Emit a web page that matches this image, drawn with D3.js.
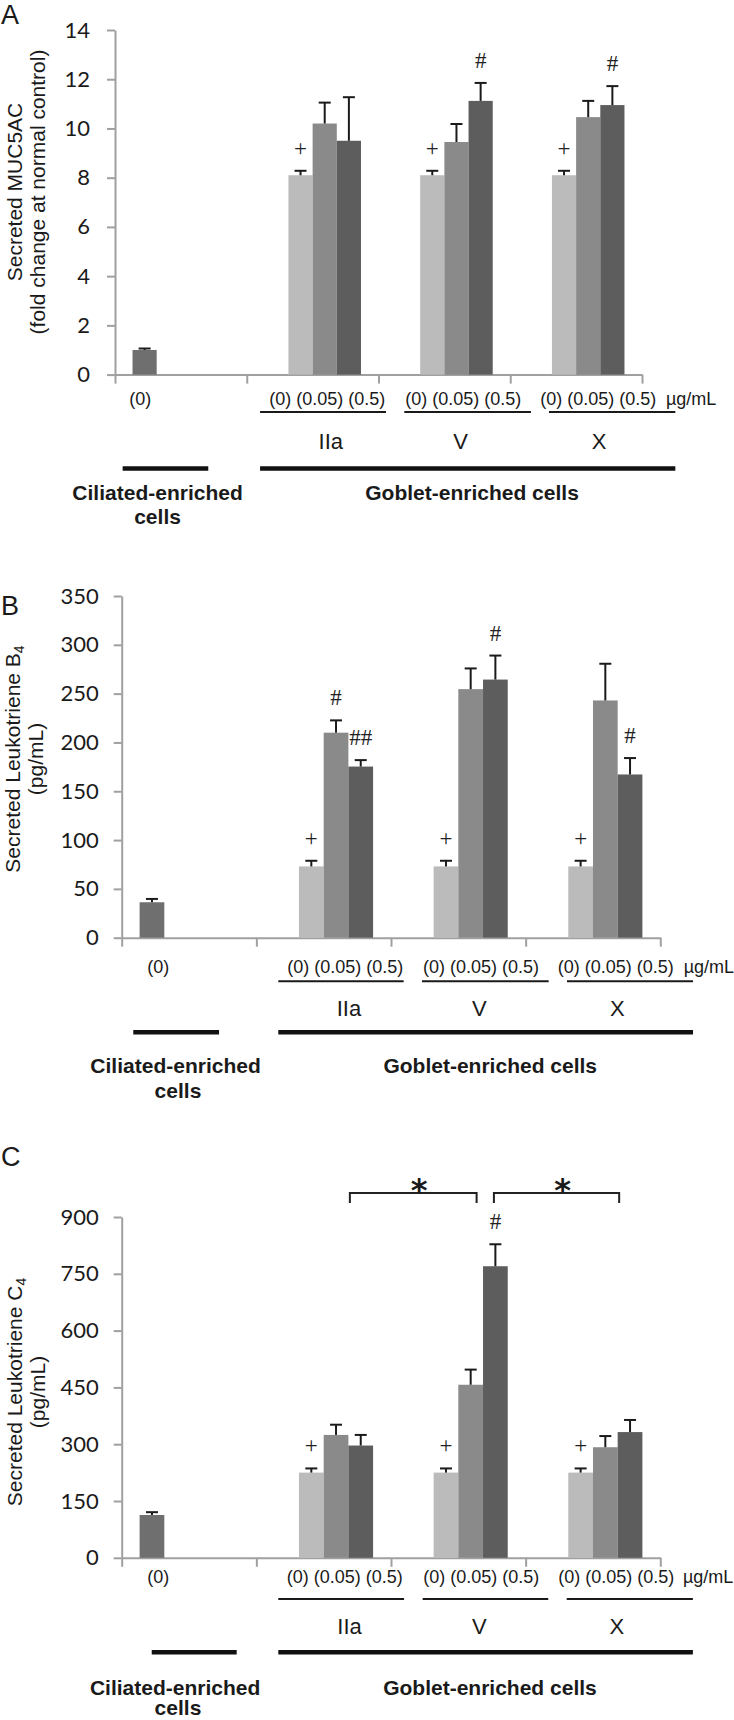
<!DOCTYPE html>
<html>
<head>
<meta charset="utf-8">
<script src="https://cdn.jsdelivr.net/npm/d3@7/dist/d3.min.js"></script>
<style>
  html, body { margin: 0; padding: 0; background: #fff; }
  svg { display: block; }
</style>
</head>
<body>
<div id="chart"></div>
<script>
// ---------------- DATA ----------------
// order: ciliated (0), IIa (0, 0.05, 0.5), V (0, 0.05, 0.5), X (0, 0.05, 0.5)
const groups = ["Ciliated-enriched", "IIa", "V", "X"];
const slots = ["ciliated", "0", "0.05", "0.5"];
const doseLabel = "(0) (0.05) (0.5)";

const muc5acMean = [1.0, 8.1, 10.2, 9.5, 8.1, 9.45, 11.12, 8.1, 10.46, 10.95];
const muc5acErr  = [0.06, 0.18, 0.85, 1.77, 0.18, 0.73, 0.73, 0.18, 0.66, 0.77];
const muc5acSig  = ["", "+", "", "", "+", "", "#", "+", "", "#"];
const muc5acTicks = [0, 2, 4, 6, 8, 10, 12, 14];

const ltb4Mean = [36.3, 73, 210, 175.3, 73, 254.6, 264.4, 73, 243, 167.2];
const ltb4Err  = [3.4, 5.8, 12.6, 6.6, 5.8, 21.2, 24.6, 5.8, 37.6, 16.8];
const ltb4Sig  = ["", "+", "#", "##", "+", "", "#", "+", "", "#"];
const ltb4Ticks = [0, 50, 100, 150, 200, 250, 300, 350];

const ltc4Mean = [113, 225, 324.5, 296.5, 225, 457, 770, 225, 292, 332];
const ltc4Err  = [7.5, 11, 27, 28, 11, 40, 58, 11, 29.5, 32];
const ltc4Sig  = ["", "+", "", "", "+", "", "#", "+", "", ""];
const ltc4Ticks = [0, 150, 300, 450, 600, 750, 900];

// ---------------- STYLE / LAYOUT ----------------
const slotColor = { "ciliated": "#6f6f6f", "0": "#bbbbbb", "0.05": "#8a8a8a", "0.5": "#5d5d5d" };
const AXIS = "#a0a0a0";
const INK = "#1a1a1a";
const TICKFONT = "Lato, 'Open Sans', sans-serif";
const SANS = "'Liberation Sans', Arial, sans-serif";
const SERIF = "'Liberation Serif', 'Times New Roman', serif";

const panels = [
  { letter: "A", letterY: 24, mean: muc5acMean, err: muc5acErr, sig: muc5acSig, ticks: muc5acTicks,
    x0: 115, x1: 642, yTop: 30, yBot: 374.6, tickPad: 17,
    title: ["Secreted MUC5AC", "(fold change at normal control)"], sub: null,
    titleX: [22, 45], titleY: 192,
    doseY: 405, cilDose: 0.192, textStart: [1.171, 2.203, 3.228],
    ulY: 412, ul: [[1.101, 2.057], [2.196, 3.157], [3.294, 4.253]], unit: 4.182,
    nameY: 448.7, names: [1.638, 2.624, 3.674],
    thickY: 468.5, thickCil: [0.058, 0.708], thickGob: [1.101, 4.253],
    cilLabel: 0.323, cellsLabel: 0.323, gobLabel: 2.710, lblY1: 500.3, lblY2: 524,
    brackets: [] },
  { letter: "B", letterY: 615, mean: ltb4Mean, err: ltb4Err, sig: ltb4Sig, ticks: ltb4Ticks,
    x0: 121.7, x1: 660.3, yTop: 596, yBot: 937.7, tickPad: 15,
    title: ["Secreted Leukotriene B", "(pg/mL)"], sub: "4",
    titleX: [20, 43], titleY: 759,
    doseY: 973, cilDose: 0.272, textStart: [1.230, 2.238, 3.238],
    ulY: 981.3, ul: [[1.163, 2.094], [2.230, 3.171], [3.307, 4.243]], unit: 4.174,
    nameY: 1015.7, names: [1.688, 2.657, 3.681],
    thickY: 1032.3, thickCil: [0.086, 0.723], thickGob: [1.163, 4.243],
    cilLabel: 0.400, cellsLabel: 0.418, gobLabel: 2.737, lblY1: 1073, lblY2: 1098,
    brackets: [] },
  { letter: "C", letterY: 1166, mean: ltc4Mean, err: ltc4Err, sig: ltc4Sig, ticks: ltc4Ticks,
    x0: 121.7, x1: 660.3, yTop: 1217, yBot: 1557.8, tickPad: 15,
    title: ["Secreted Leukotriene C", "(pg/mL)"], sub: "4",
    titleX: [21.5, 44.5], titleY: 1392,
    doseY: 1583, cilDose: 0.272, textStart: [1.225, 2.240, 3.242],
    ulY: 1599, ul: [[1.163, 2.097], [2.235, 3.168], [3.305, 4.242]], unit: 4.168,
    nameY: 1633.7, names: [1.692, 2.656, 3.678],
    thickY: 1652.3, thickCil: [0.223, 0.854], thickGob: [1.163, 4.242],
    cilLabel: 0.397, cellsLabel: 0.418, gobLabel: 2.735, lblY1: 1694.7, lblY2: 1715,
    // bracket ends: [category index, slot position within category]
    brackets: [ { from: [1, 3.06], to: [2, 2.74], y: 1193, drop: 10, label: "*" },
                { from: [2, 3.44], to: [3, 3.06], y: 1193, drop: 10, label: "*" } ] }
];

const W = 734, H = 1720;
const svg = d3.select("#chart").append("svg")
  .attr("width", W).attr("height", H)
  .attr("viewBox", `0 0 ${W} ${H}`);
svg.append("rect").attr("width", W).attr("height", H).attr("fill", "#fff");

function idxToCat(i) { return i === 0 ? 0 : 1 + Math.floor((i - 1) / 3); }
function idxToSlot(i) { return i === 0 ? 0 : 1 + (i - 1) % 3; }

panels.forEach(p => {
  const g = svg.append("g");
  const xCat = d3.scaleBand().domain(groups).range([p.x0, p.x1]).paddingInner(0).paddingOuter(0);
  const xSlot = d3.scaleBand().domain(slots).range([0, xCat.bandwidth()]).paddingInner(0).paddingOuter(0.725);
  const xb = d3.scaleLinear().domain([0, groups.length]).range([p.x0, p.x1]);
  const y = d3.scaleLinear().domain([0, d3.max(p.ticks)]).range([p.yBot, p.yTop]);
  const step = xSlot.step();
  const slotX = (cat, pos) => xCat(groups[cat]) + xSlot(slots[0]) + pos * step;

  // panel letter
  g.append("text").attr("x", 1).attr("y", p.letterY)
    .attr("font-family", SANS).attr("font-size", 27).attr("fill", INK).text(p.letter);

  // y axis
  const yAxis = g.append("g").attr("transform", `translate(${p.x0},0)`)
    .call(d3.axisLeft(y).tickValues(p.ticks).tickSize(8).tickSizeOuter(0).tickPadding(p.tickPad).tickFormat(d3.format("d")));
  yAxis.select(".domain").attr("stroke", AXIS).attr("stroke-width", 2);
  yAxis.selectAll(".tick line").attr("stroke", AXIS).attr("stroke-width", 2);
  yAxis.selectAll(".tick text").attr("font-family", TICKFONT).attr("font-size", 22).attr("fill", INK);

  // x axis (category boundaries)
  const xAxis = g.append("g").attr("transform", `translate(0,${p.yBot})`)
    .call(d3.axisBottom(xb).tickValues(d3.range(groups.length + 1)).tickSize(9).tickSizeOuter(0).tickFormat(""));
  xAxis.select(".domain").attr("stroke", AXIS).attr("stroke-width", 2);
  xAxis.selectAll(".tick line").attr("stroke", AXIS).attr("stroke-width", 2);

  // bars
  const rows = p.mean.map((v, i) => ({ v, e: p.err[i], s: p.sig[i], cat: groups[idxToCat(i)], slot: slots[idxToSlot(i)] }));
  g.selectAll("rect.bar").data(rows).join("rect").attr("class", "bar")
    .attr("x", d => xCat(d.cat) + xSlot(d.slot))
    .attr("width", xSlot.bandwidth())
    .attr("y", d => y(d.v))
    .attr("height", d => y(0) - y(d.v))
    .attr("fill", d => slotColor[d.slot]);

  // error bars (upper only)
  const cap = 12;
  rows.forEach(d => {
    const cx = xCat(d.cat) + xSlot(d.slot) + xSlot.bandwidth() / 2;
    g.append("line").attr("x1", cx).attr("x2", cx).attr("y1", y(d.v)).attr("y2", y(d.v + d.e))
      .attr("stroke", INK).attr("stroke-width", 2);
    g.append("line").attr("x1", cx - cap / 2).attr("x2", cx + cap / 2).attr("y1", y(d.v + d.e)).attr("y2", y(d.v + d.e))
      .attr("stroke", INK).attr("stroke-width", 2);
    if (d.s) {
      g.append("text").attr("x", cx).attr("y", y(d.v + d.e) - 15)
        .attr("text-anchor", "middle").attr("font-family", SERIF).attr("font-size", 23)
        .attr("fill", "#222").text(d.s);
    }
  });

  // y title
  const t = g.append("g");
  const t1 = t.append("text").attr("transform", `translate(${p.titleX[0]},${p.titleY}) rotate(-90)`)
    .attr("text-anchor", "middle").attr("font-family", SANS).attr("font-size", 21).attr("fill", INK);
  t1.append("tspan").text(p.title[0]);
  if (p.sub) t1.append("tspan").attr("font-size", 14).attr("dy", 4).text(p.sub);
  t.append("text").attr("transform", `translate(${p.titleX[1]},${p.titleY}) rotate(-90)`)
    .attr("text-anchor", "middle").attr("font-family", SANS).attr("font-size", 21).attr("fill", INK)
    .text(p.title[1]);

  // dose labels
  g.append("text").attr("x", xb(p.cilDose)).attr("y", p.doseY).attr("text-anchor", "middle")
    .attr("font-family", SANS).attr("font-size", 18).attr("fill", INK).text("(0)");
  p.textStart.forEach(s => {
    g.append("text").attr("x", xb(s)).attr("y", p.doseY)
      .attr("font-family", SANS).attr("font-size", 18).attr("fill", INK).text(doseLabel);
  });
  g.append("text").attr("x", xb(p.unit)).attr("y", p.doseY)
    .attr("font-family", SANS).attr("font-size", 18).attr("fill", INK).text("µg/mL");
  p.ul.forEach(u => {
    g.append("line").attr("x1", xb(u[0])).attr("x2", xb(u[1])).attr("y1", p.ulY).attr("y2", p.ulY)
      .attr("stroke", INK).attr("stroke-width", 2);
  });
  // compound names
  groups.slice(1).forEach((name, k) => {
    g.append("text").attr("x", xb(p.names[k])).attr("y", p.nameY).attr("text-anchor", "middle")
      .attr("font-family", SANS).attr("font-size", 22).attr("fill", INK).text(name);
  });
  // thick lines
  [p.thickCil, p.thickGob].forEach(r => {
    g.append("line").attr("x1", xb(r[0])).attr("x2", xb(r[1])).attr("y1", p.thickY).attr("y2", p.thickY)
      .attr("stroke", "#111").attr("stroke-width", 4.5);
  });
  // cell type labels
  g.append("text").attr("x", xb(p.cilLabel)).attr("y", p.lblY1).attr("text-anchor", "middle")
    .attr("font-family", SANS).attr("font-weight", "bold").attr("font-size", 21).attr("fill", INK).text("Ciliated-enriched");
  g.append("text").attr("x", xb(p.cellsLabel)).attr("y", p.lblY2).attr("text-anchor", "middle")
    .attr("font-family", SANS).attr("font-weight", "bold").attr("font-size", 21).attr("fill", INK).text("cells");
  g.append("text").attr("x", xb(p.gobLabel)).attr("y", p.lblY1).attr("text-anchor", "middle")
    .attr("font-family", SANS).attr("font-weight", "bold").attr("font-size", 21).attr("fill", INK).text("Goblet-enriched cells");

  // significance brackets
  p.brackets.forEach(b => {
    const xa = slotX(b.from[0], b.from[1]);
    const xz = slotX(b.to[0], b.to[1]);
    g.append("path")
      .attr("d", `M${xa},${b.y + b.drop} L${xa},${b.y} L${xz},${b.y} L${xz},${b.y + b.drop}`)
      .attr("fill", "none").attr("stroke", "#222").attr("stroke-width", 2);
    g.append("text").attr("x", (xa + xz) / 2 + 6).attr("y", b.y + 8)
      .attr("text-anchor", "middle").attr("font-family", "'DejaVu Sans', sans-serif").attr("font-weight", "bold")
      .attr("font-size", 32).attr("fill", INK).text(b.label);
  });
});
</script>
</body>
</html>
